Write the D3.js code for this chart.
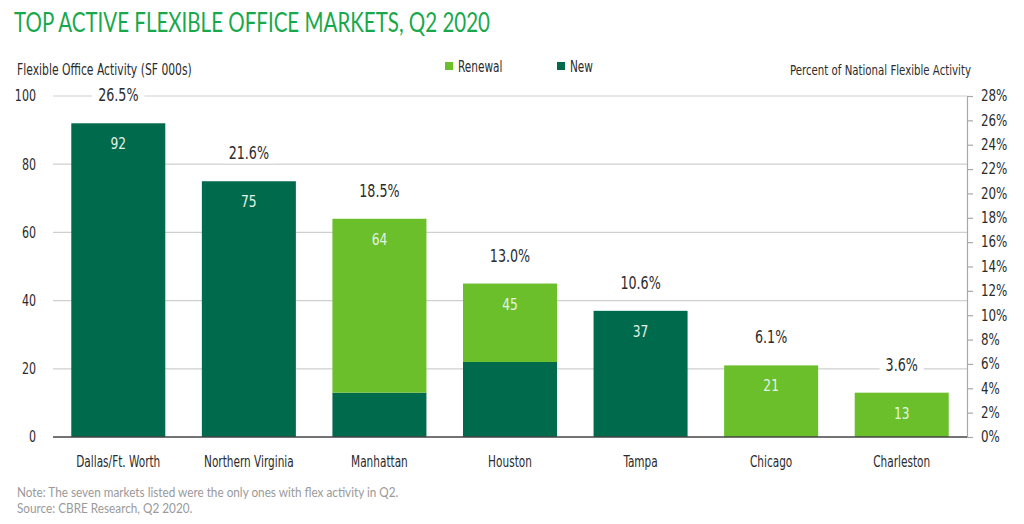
<!DOCTYPE html>
<html>
<head>
<meta charset="utf-8">
<script src="https://cdn.jsdelivr.net/npm/d3@7"></script>
<style>
  html, body { margin: 0; padding: 0; background: #fff; }
  svg { display: block; }
  .cond { font-family: "Liberation Sans Narrow", "DejaVu Sans Condensed", "Roboto Condensed", sans-serif; }
</style>
</head>
<body>
<svg id="chart" width="1024" height="524"></svg>
<script>
const categories = ["Dallas/Ft. Worth", "Northern Virginia", "Manhattan", "Houston", "Tampa", "Chicago", "Charleston"];
const newValues = [92, 75, 13, 22, 37, 0, 0];
const renewalValues = [0, 0, 51, 23, 0, 21, 13];
const percentValues = [26.5, 21.6, 18.5, 13.0, 10.6, 6.1, 3.6];
const leftTicks = [0, 20, 40, 60, 80, 100];
const rightTicks = [0, 2, 4, 6, 8, 10, 12, 14, 16, 18, 20, 22, 24, 26, 28];

const COLOR_NEW = "#006a4d";
const COLOR_RENEW = "#6abf2a";
const TEXT = "#2b2b2b";

const svg = d3.select("#chart");
const plotL = 53, plotR = 967, plotT = 96, plotB = 437;

const x = d3.scaleBand().domain(categories).range([plotL, plotR]).paddingInner(0.28).paddingOuter(0.14);
const y = d3.scaleLinear().domain([0, 100]).range([plotB, plotT]);
const yR = d3.scaleLinear().domain([0, 28]).range([plotB, plotT]);

function squeeze(sel, f) {
  sel.each(function () {
    const w = this.getComputedTextLength();
    d3.select(this).attr("textLength", w * f).attr("lengthAdjust", "spacingAndGlyphs");
  });
}

// Title
svg.append("text")
  .attr("x", 14).attr("y", 32)
  .attr("font-family", "Lato, 'Noto Sans', sans-serif")
  .attr("font-weight", 400)
  .attr("font-size", 27)
  .attr("fill", "#17a84b")
  .attr("textLength", 476)
  .attr("lengthAdjust", "spacingAndGlyphs")
  .text("TOP ACTIVE FLEXIBLE OFFICE MARKETS, Q2 2020");

// Axis titles
const t1 = svg.append("text").attr("class", "cond")
  .attr("x", 17).attr("y", 75)
  .attr("font-size", 15).attr("fill", TEXT)
  .text("Flexible Office Activity (SF 000s)");
squeeze(t1, 0.8);
const t2 = svg.append("text").attr("class", "cond")
  .attr("x", 790).attr("y", 75)
  .attr("font-size", 14).attr("fill", TEXT)
  .text("Percent of National Flexible Activity");
squeeze(t2, 0.81);

// Legend
const legendItems = [
  { label: "Renewal", color: COLOR_RENEW, x: 445 },
  { label: "New", color: COLOR_NEW, x: 557 }
];
const lg = svg.append("g");
legendItems.forEach(it => {
  lg.append("rect").attr("x", it.x).attr("y", 62).attr("width", 8).attr("height", 8).attr("fill", it.color);
  const lt = lg.append("text").attr("class", "cond")
    .attr("x", it.x + 13).attr("y", 71.5)
    .attr("font-size", 15).attr("fill", TEXT).text(it.label);
  squeeze(lt, 0.78);
});

// Gridlines
svg.append("g").selectAll("line")
  .data(leftTicks.filter(d => d > 0))
  .join("line")
  .attr("x1", plotL).attr("x2", plotR)
  .attr("y1", d => y(d)).attr("y2", d => y(d))
  .attr("stroke", "#cfcfcf").attr("stroke-width", 1.2);

// Left axis labels
const leftAxis = d3.axisLeft(y).tickValues(leftTicks).tickSize(0).tickPadding(0);
const gL = svg.append("g").attr("transform", `translate(36,0)`).call(leftAxis);
gL.select(".domain").remove();
gL.selectAll("text").attr("class", "cond").attr("font-size", 15).attr("fill", TEXT);
squeeze(gL.selectAll("text"), 0.82);

// Right axis
const rightAxis = d3.axisRight(yR).tickValues(rightTicks).tickFormat(d => d + "%").tickSize(6).tickSizeOuter(0).tickPadding(8);
const gR = svg.append("g").attr("transform", `translate(${plotR},0)`).call(rightAxis);
gR.select(".domain").attr("stroke", "#a8a8a8").attr("stroke-width", 1.2);
gR.selectAll(".tick line").attr("stroke", "#a8a8a8").attr("stroke-width", 1.2);
gR.selectAll("text").attr("class", "cond").attr("font-size", 15).attr("fill", TEXT);
squeeze(gR.selectAll("text"), 0.88);

// Stacked bars
const data = categories.map((c, i) => ({ cat: c, nw: newValues[i], rn: renewalValues[i], pct: percentValues[i] }));
const bars = svg.append("g");
bars.selectAll(".new").data(data.filter(d => d.nw > 0)).join("rect")
  .attr("x", d => x(d.cat)).attr("width", x.bandwidth())
  .attr("y", d => y(d.nw)).attr("height", d => y(0) - y(d.nw))
  .attr("fill", COLOR_NEW);
bars.selectAll(".renew").data(data.filter(d => d.rn > 0)).join("rect")
  .attr("x", d => x(d.cat)).attr("width", x.bandwidth())
  .attr("y", d => y(d.nw + d.rn)).attr("height", d => y(d.nw) - y(d.nw + d.rn))
  .attr("fill", COLOR_RENEW);

// Baseline
svg.append("line").attr("x1", plotL).attr("x2", plotR)
  .attr("y1", plotB).attr("y2", plotB)
  .attr("stroke", "#444").attr("stroke-width", 1.5);

// Value labels
const vl = svg.append("g").selectAll("text").data(data).join("text")
  .attr("class", "cond")
  .attr("x", d => x(d.cat) + x.bandwidth() / 2)
  .attr("y", d => y(d.nw + d.rn) + 26)
  .attr("text-anchor", "middle")
  .attr("font-size", 16).attr("fill", "#e3f3e8")
  .text(d => d.nw + d.rn);
squeeze(vl, 0.85);

// Percent labels with white knockout
const pg = svg.append("g");
data.forEach(d => {
  const cx = x(d.cat) + x.bandwidth() / 2;
  const cy = y(d.nw + d.rn) - 28;
  const t = pg.append("text").attr("class", "cond")
    .attr("x", cx).attr("y", cy + 6)
    .attr("text-anchor", "middle")
    .attr("font-size", 17).attr("fill", TEXT)
    .text(d.pct.toFixed(1) + "%");
  squeeze(t, 0.83);
  const bb = t.node().getBBox();
  pg.insert("rect", "text")
    .attr("x", bb.x - 6).attr("y", bb.y)
    .attr("width", bb.width + 12).attr("height", bb.height)
    .attr("fill", "#fff");
});

// Category labels
const cl = svg.append("g").selectAll("text").data(categories).join("text")
  .attr("class", "cond")
  .attr("x", d => x(d) + x.bandwidth() / 2)
  .attr("y", 467)
  .attr("text-anchor", "middle")
  .attr("font-size", 15).attr("fill", TEXT)
  .text(d => d);
squeeze(cl, 0.78);

// Footnotes
const notes = ["Note: The seven markets listed were the only ones with flex activity in Q2.", "Source: CBRE Research, Q2 2020."];
const fn = svg.append("g").selectAll("text").data(notes).join("text")
  .attr("x", 17).attr("y", (d, i) => 497 + i * 16)
  .attr("font-family", "Lato, 'Noto Sans', sans-serif")
  .attr("font-size", 12.5).attr("fill", "#9a9a9a")
  .text(d => d);
squeeze(fn, 0.94);
</script>
</body>
</html>
